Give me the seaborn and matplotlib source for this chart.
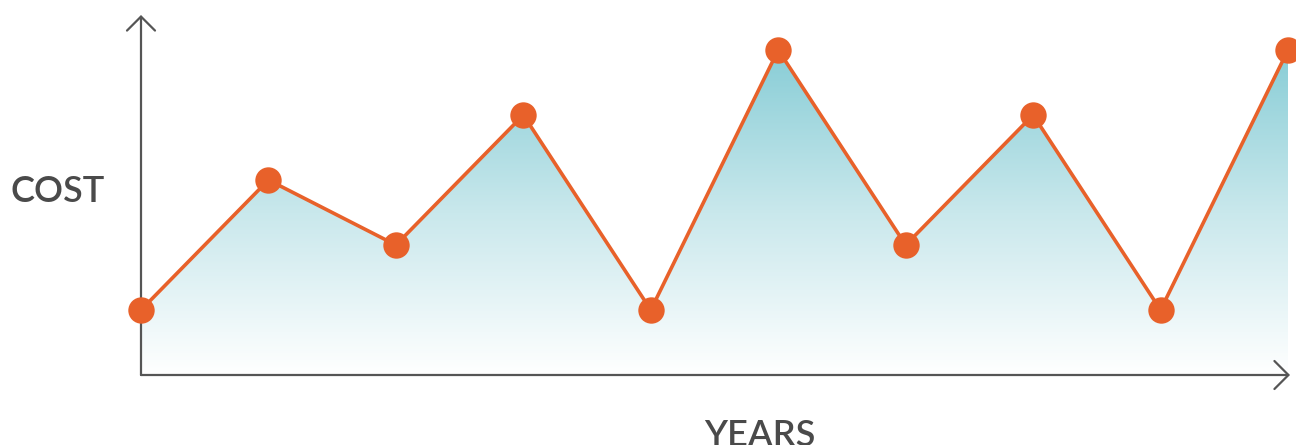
import numpy as np
import pandas as pd
import matplotlib
matplotlib.use("Agg")
import matplotlib.pyplot as plt
import seaborn as sns
from matplotlib.colors import LinearSegmentedColormap

# data
years = list(range(10))
cost = [1, 3, 2, 4, 1, 5, 2, 4, 1, 5]
x_label = "YEARS"
y_label = "COST"

df = pd.DataFrame({"year": years, "cost": cost})

sns.set_theme(style="white")
plt.rcParams['font.family'] = ['Lato', 'DejaVu Sans']

W, H = 1296, 445
fig = plt.figure(figsize=(W / 100, H / 100), dpi=100)
left, bottom, top, right = 141, 375, 15, 1290
ax = fig.add_axes([left / W, (H - bottom) / H, (right - left) / W, (bottom - top) / H])

orange = "#E8612A"
axis_col = "#555555"
text_col = "#4a4a4a"

xmax = 9 + (right - 1288) / ((1288 - 141) / 9)
ax.set_xlim(0, xmax)
ax.set_ylim(0, (bottom - top) / 65.0)

# gradient fill under the line
poly = ax.fill_between(df["year"], df["cost"], 0, color="none", lw=0)
cmap = LinearSegmentedColormap.from_list("g", ["#ffffff", "#c9e8ec", "#88cdd6"])
grad = np.linspace(0, 1, 256).reshape(-1, 1)
ymax_data = max(cost)
img = ax.imshow(grad, extent=[0, 9, 0, ymax_data], origin="lower", aspect="auto",
                cmap=cmap, zorder=1)
path = poly.get_paths()[0]
img.set_clip_path(path, transform=ax.transData)

sns.lineplot(data=df, x="year", y="cost", ax=ax, color=orange, lw=2.6,
             marker="o", markersize=19, markeredgewidth=0, zorder=3)
for line in ax.lines:
    line.set_clip_on(False)

sns.despine(ax=ax, left=True, bottom=True, top=True, right=True)
ax.set_xticks([])
ax.set_yticks([])
ax.set_xlabel("")
ax.set_ylabel("")
ax.patch.set_alpha(0)

arrow_kw = dict(arrowstyle="->,head_length=0.42,head_width=0.42", color=axis_col,
                lw=1.6, mutation_scale=24, shrinkA=0, shrinkB=0, clip_on=False)
a1 = ax.annotate("", xy=(0, 1), xytext=(0, 0), xycoords="axes fraction",
                 arrowprops=arrow_kw, zorder=2, annotation_clip=False)
a2 = ax.annotate("", xy=(1, 0), xytext=(0, 0), xycoords="axes fraction",
                 arrowprops=arrow_kw, zorder=2, annotation_clip=False)
for a in (a1, a2):
    a.arrow_patch.set_clip_on(False)
    a.arrow_patch.set_zorder(2)

fig.text(10 / W, 1 - 191 / H, y_label, fontsize=26, fontweight="semibold",
         color=text_col, ha="left", va="center")
fig.text(760 / W, 1 - 419 / H, x_label, fontsize=26, fontweight="semibold",
         color=text_col, ha="center", va="top")

fig.savefig("out.png", dpi=100, facecolor="white")
